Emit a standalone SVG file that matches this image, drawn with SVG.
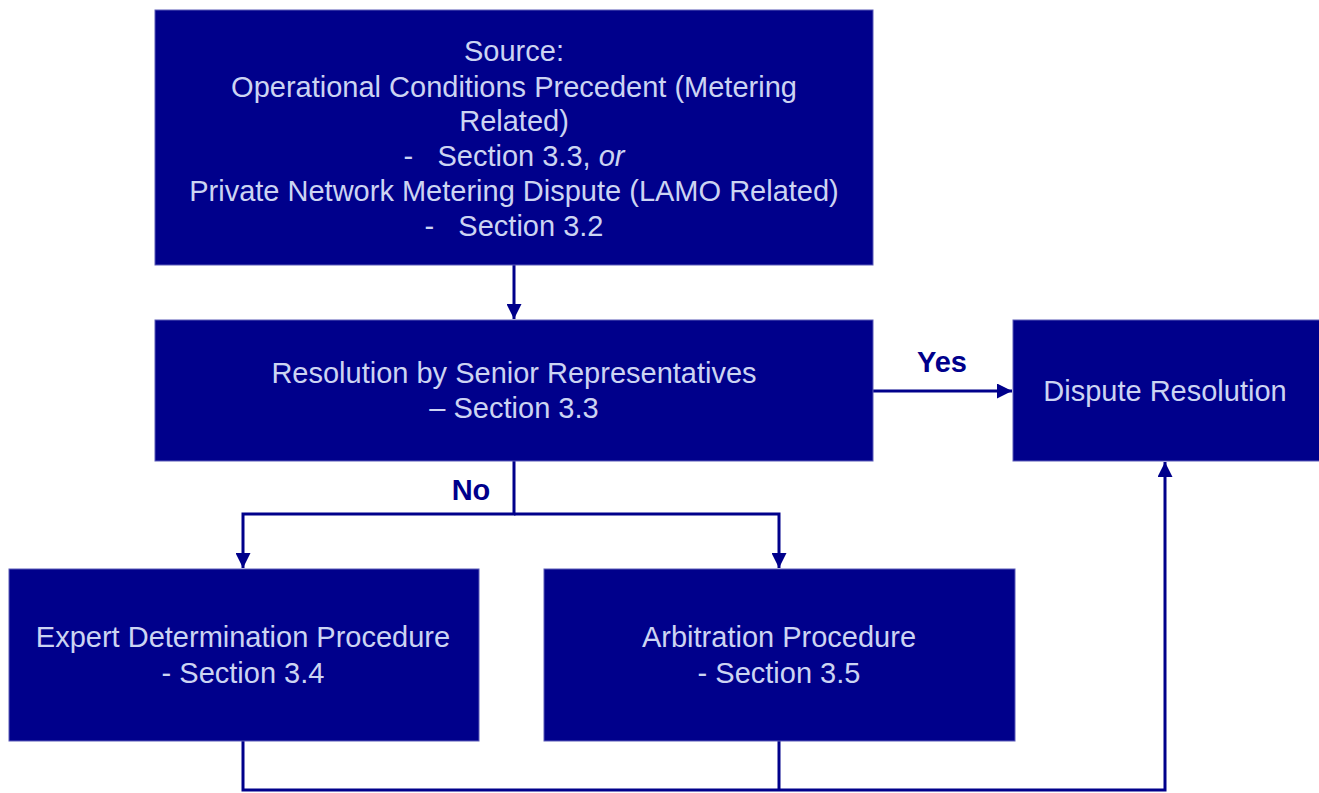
<svg xmlns="http://www.w3.org/2000/svg" width="1319" height="793" viewBox="0 0 1319 793">
<style>
.box{fill:#00008B;stroke:#5a5ab8;stroke-width:1}
.t{font-family:"Liberation Sans",Arial,sans-serif;font-size:29px;fill:#CCD4F2;text-anchor:middle}
.lbl{font-family:"Liberation Sans",Arial,sans-serif;font-size:29px;font-weight:bold;fill:#00008B;text-anchor:middle}
.c{fill:none;stroke:#00008B;stroke-width:3}
</style>
<defs>
<marker id="ah" viewBox="0 0 10 10" refX="10" refY="5" markerWidth="5" markerHeight="5" orient="auto" markerUnits="strokeWidth">
<path d="M0,0 L10,5 L0,10 z" fill="#00008B"/>
</marker>
</defs>
<rect width="1319" height="793" fill="#fff"/>
<g id="connectors">
<line class="c" x1="514" y1="265" x2="514" y2="319" marker-end="url(#ah)"/>
<line class="c" x1="873" y1="391" x2="1012" y2="391" marker-end="url(#ah)"/>
<polyline class="c" points="514,461 514,514 243,514 243,568" marker-end="url(#ah)"/>
<polyline class="c" points="514,514 779,514 779,568" marker-end="url(#ah)"/>
<polyline class="c" points="243,741 243,790 1165,790 1165,462" marker-end="url(#ah)"/>
<line class="c" x1="779" y1="741" x2="779" y2="790"/>
<text class="lbl" x="942" y="372">Yes</text>
<text class="lbl" x="471" y="500">No</text>
</g>
<g id="source">
<rect class="box" x="155" y="10" width="718" height="255"/>
<text class="t" x="514" y="61">Source:</text>
<text class="t" x="514" y="97">Operational Conditions Precedent (Metering</text>
<text class="t" x="514" y="131">Related)</text>
<text class="t" x="514" y="166" xml:space="preserve">-   Section 3.3, <tspan font-style="italic">or</tspan></text>
<text class="t" x="514" y="201">Private Network Metering Dispute (LAMO Related)</text>
<text class="t" x="514" y="236" xml:space="preserve">-   Section 3.2</text>
</g>
<g id="senior">
<rect class="box" x="155" y="320" width="718" height="141"/>
<text class="t" x="514" y="383">Resolution by Senior Representatives</text>
<text class="t" x="514" y="418">– Section 3.3</text>
</g>
<g id="dispute">
<rect class="box" x="1013" y="320" width="310" height="141"/>
<text class="t" x="1165" y="401">Dispute Resolution</text>
</g>
<g id="expert">
<rect class="box" x="9" y="569" width="470" height="172"/>
<text class="t" x="243" y="647">Expert Determination Procedure</text>
<text class="t" x="243" y="683">- Section 3.4</text>
</g>
<g id="arbitration">
<rect class="box" x="544" y="569" width="471" height="172"/>
<text class="t" x="779" y="647">Arbitration Procedure</text>
<text class="t" x="779" y="683">- Section 3.5</text>
</g>
</svg>
